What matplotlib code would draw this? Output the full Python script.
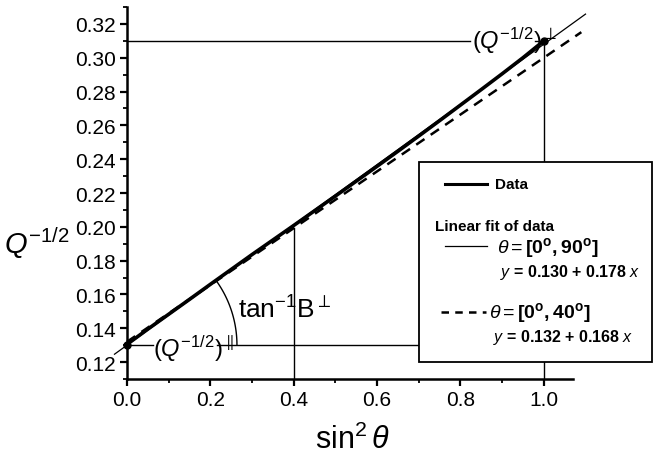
import numpy as np
import matplotlib
matplotlib.use("Agg")
import matplotlib.pyplot as plt
from matplotlib.patches import Rectangle
from matplotlib.lines import Line2D
from matplotlib.ticker import MultipleLocator, FormatStrFormatter

plt.rcParams['font.family'] = ['Liberation Sans', 'DejaVu Sans']
plt.rcParams['mathtext.fontset'] = 'custom'
plt.rcParams['mathtext.rm'] = 'Liberation Sans'
plt.rcParams['mathtext.it'] = 'Liberation Sans:italic'
plt.rcParams['mathtext.bf'] = 'Liberation Sans:bold'

# ---- data ----
x_data = [0.0, 0.05, 0.1, 0.15, 0.2, 0.25, 0.3, 0.35, 0.4, 0.45, 0.5,
          0.55, 0.6, 0.65, 0.7, 0.75, 0.8, 0.85, 0.9, 0.95, 1.0]
y_data = [0.1305, 0.1395, 0.1483, 0.1571, 0.1660, 0.1748, 0.1836, 0.1922,
          0.2008, 0.2095, 0.2182, 0.2270, 0.2358, 0.2447, 0.2537, 0.2628,
          0.2720, 0.2812, 0.2905, 0.3000, 0.3100]
fit1_a, fit1_b = 0.130, 0.178   # theta = [0, 90]
fit2_a, fit2_b = 0.132, 0.168   # theta = [0, 40]
fit1_range = [-0.03, 1.10]
fit2_range = [0.0, 1.09]
q_perp = 0.31
q_par = 0.13
x_tan = 0.4
x_ticks = [0.0, 0.2, 0.4, 0.6, 0.8, 1.0]
y_ticks = [0.12, 0.14, 0.16, 0.18, 0.20, 0.22, 0.24, 0.26, 0.28, 0.30, 0.32]

W, H = 655, 464
fig = plt.figure(figsize=(W/100, H/100), dpi=100)
ax = fig.add_axes([127/W, 1-380/H, (573-127)/W, (380-8)/H])
ax.set_xlim(0, 1.07)
ax.set_ylim(0.11, 0.33)

for s in ['top', 'right']:
    ax.spines[s].set_visible(False)
for s in ['left', 'bottom']:
    ax.spines[s].set_linewidth(1.8)

ax.set_xticks(x_ticks)
ax.set_yticks(y_ticks)
ax.xaxis.set_minor_locator(MultipleLocator(0.1))
ax.yaxis.set_minor_locator(MultipleLocator(0.01))
ax.xaxis.set_major_formatter(FormatStrFormatter('%.1f'))
ax.yaxis.set_major_formatter(FormatStrFormatter('%.2f'))
ax.tick_params(which='major', direction='out', length=5, width=1.6, labelsize=15, pad=3)
ax.tick_params(which='minor', direction='out', length=3, width=1.3)

# data and fits
ax.plot(x_data, y_data, color='black', lw=2.6, zorder=4, solid_capstyle='round')
ax.plot([x_data[0], x_data[-1]], [y_data[0] - 0.0005, q_perp], 'o', color='black', ms=5, zorder=5, clip_on=False)
xf1 = np.array(fit1_range)
ax.plot(xf1, fit1_a + fit1_b * xf1, color='black', lw=0.9, zorder=3, clip_on=False)
xf2 = np.array(fit2_range)
ax.plot(xf2, fit2_a + fit2_b * xf2, color='black', lw=1.8, ls=(0, (4, 3)), zorder=3, clip_on=False)

# guide lines
ax.plot([0, 0.822], [q_perp, q_perp], color='black', lw=1.0, zorder=2)
ax.plot([0.98, 1.0], [q_perp, q_perp], color='black', lw=1.0, zorder=2)
ax.plot([1.0, 1.0], [0.11, q_perp], color='black', lw=1.0, zorder=2)
ax.plot([0, 0.063], [q_par, q_par], color='black', lw=1.0, zorder=2)
ax.plot([0.216, 1.07], [q_par, q_par], color='black', lw=1.0, zorder=2)
ax.plot([x_tan, x_tan], [0.11, fit1_a + fit1_b * x_tan - 0.002], color='black', lw=1.0, zorder=2)

# arc (circular in pixels)
px_per_x = 417.0
px_per_y = 33.7 / 0.02
r = 110
ang = np.arctan2(fit1_b * px_per_y, px_per_x)
t = np.linspace(0, ang, 60)
ax.plot(r*np.cos(t)/px_per_x, q_par + r*np.sin(t)/px_per_y, color='black', lw=1.0, zorder=2)

# annotations
ax.text(0.827, 0.3105, r'$(\mathit{Q}^{\mathrm{-1/2}})^{\perp}$', fontsize=17,
        ha='left', va='center')
ax.text(0.062, 0.1285, r'$(\mathit{Q}^{\mathrm{-1/2}})^{\parallel}$', fontsize=17,
        ha='left', va='center')
ax.text(0.266, 0.1465, r'$\mathrm{tan}^{\mathrm{-1}}\mathrm{B}^{\perp}$', fontsize=19,
        ha='left', va='baseline')

# axis labels
fig.text(37/W, 1-243/H, r'$\mathit{Q}^{\mathrm{-1/2}}$', fontsize=21, ha='center', va='center')
fig.text(352/W, 1-440/H, r'$\mathrm{sin}^{2}\,\mathit{\theta}$', fontsize=22, ha='center', va='center')

# legend box
fx = lambda p: p / W
fy = lambda p: 1 - p / H
fig.add_artist(Rectangle((fx(419), fy(363)), fx(652) - fx(419), fy(163) - fy(363),
                         transform=fig.transFigure, facecolor='white', edgecolor='black',
                         lw=1.3, zorder=10))
fig.add_artist(Line2D([fx(445), fx(487)], [fy(185), fy(185)], transform=fig.transFigure,
                      color='black', lw=2.2, zorder=11))
fig.text(fx(495), fy(185), 'Data', fontsize=11, fontweight='bold', va='center', ha='left', zorder=11)
fig.text(fx(435), fy(227), 'Linear fit of data', fontsize=11, fontweight='bold', va='center', ha='left', zorder=11)
fig.add_artist(Line2D([fx(445), fx(487)], [fy(247), fy(247)], transform=fig.transFigure,
                      color='black', lw=0.9, zorder=11))
fig.text(fx(497), fy(248), r'$\mathit{\theta} = \mathbf{[0^{o}, 90^{o}]}$', fontsize=14,
         va='center', ha='left', zorder=11)
fig.text(fx(500), fy(273), r'$\mathbf{\mathit{y}}$ = 0.130 + 0.178 $\mathbf{\mathit{x}}$',
         fontsize=11.5, fontweight='bold', va='center', ha='left', zorder=11)
fig.add_artist(Line2D([fx(441), fx(486)], [fy(313), fy(313)], transform=fig.transFigure,
                      color='black', lw=1.8, ls=(0, (3, 2.5)), zorder=11))
fig.text(fx(489), fy(313), r'$\mathit{\theta} = \mathbf{[0^{o}, 40^{o}]}$', fontsize=14,
         va='center', ha='left', zorder=11)
fig.text(fx(493), fy(338), r'$\mathbf{\mathit{y}}$ = 0.132 + 0.168 $\mathbf{\mathit{x}}$',
         fontsize=11.5, fontweight='bold', va='center', ha='left', zorder=11)

fig.savefig('out.png', dpi=100)
